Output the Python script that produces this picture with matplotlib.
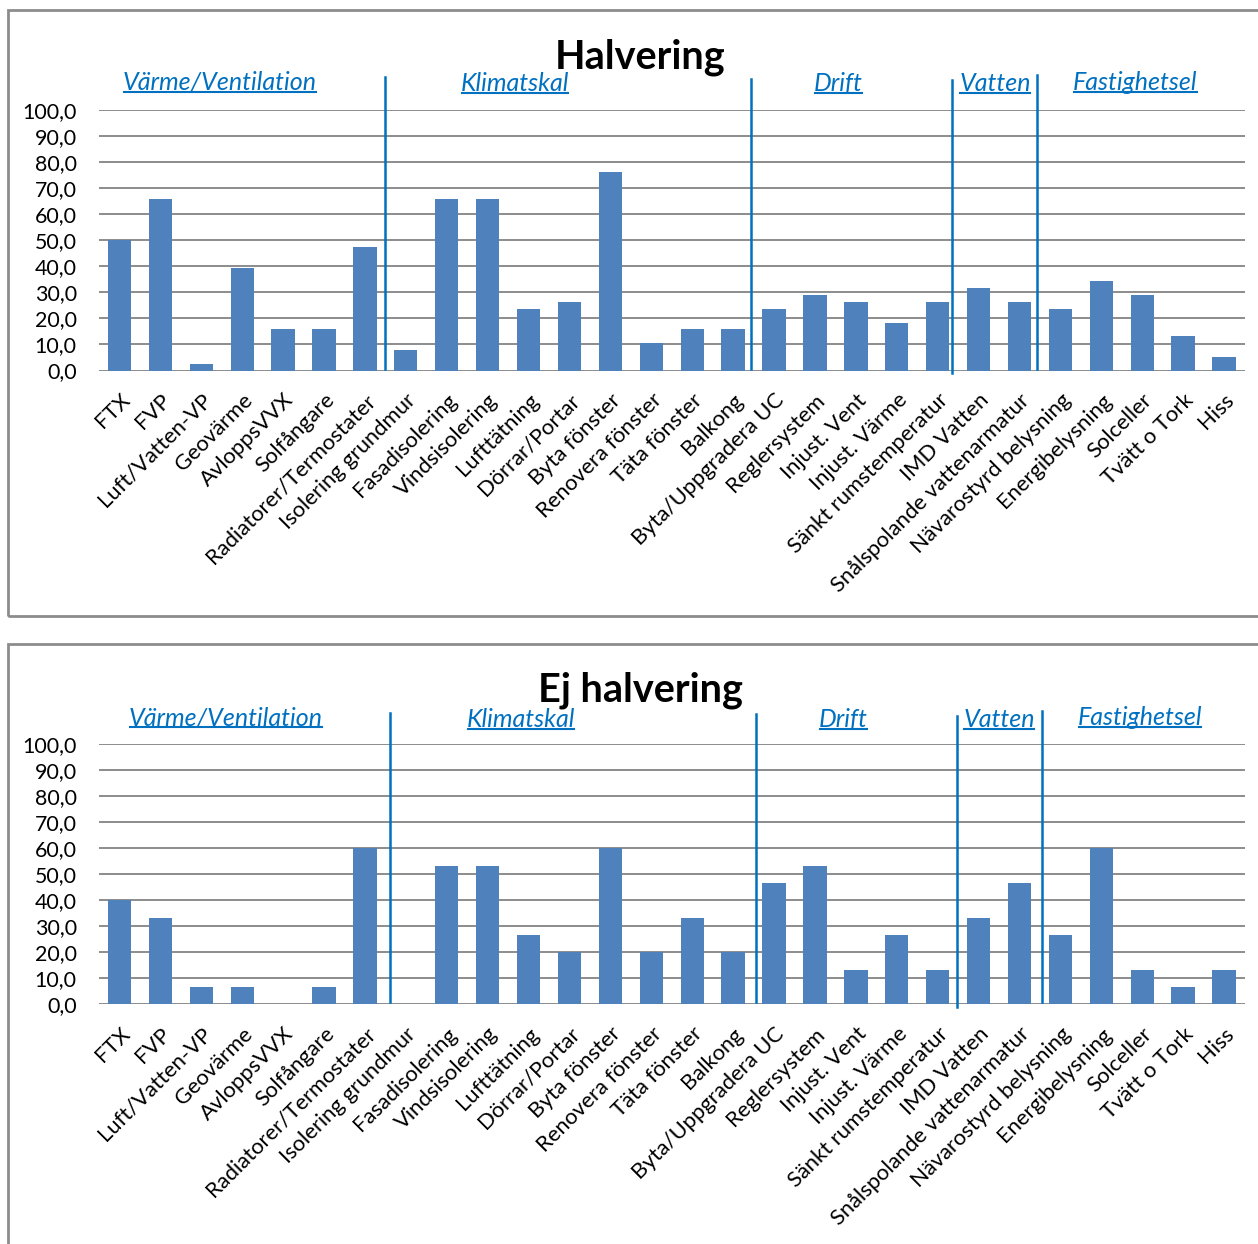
import matplotlib
matplotlib.use("Agg")
import matplotlib.pyplot as plt
from matplotlib.patches import Rectangle
from matplotlib.lines import Line2D
from matplotlib.ticker import FuncFormatter

plt.rcParams["font.family"] = ["Lato", "DejaVu Sans"]

# Categories (x axis)
categories = [
    "FTX", "FVP", "Luft/Vatten-VP", "Geovärme", "AvloppsVVX", "Solfångare",
    "Radiatorer/Termostater", "Isolering grundmur", "Fasadisolering",
    "Vindsisolering", "Lufttätning", "Dörrar/Portar", "Byta fönster",
    "Renovera fönster", "Täta fönster", "Balkong", "Byta/Uppgradera UC",
    "Reglersystem", "Injust. Vent", "Injust. Värme", "Sänkt rumstemperatur",
    "IMD Vatten", "Snålspolande vattenarmatur", "Nävarostyrd belysning",
    "Energibelysning", "Solceller", "Tvätt o Tork", "Hiss",
]

# Values (%)
halvering = [
    50.0, 65.8, 2.6, 39.5, 15.8, 15.8, 47.4, 7.9, 65.8, 65.8, 23.7, 26.3,
    76.3, 10.5, 15.8, 15.8, 23.7, 28.9, 26.3, 18.4, 26.3, 31.6, 26.3, 23.7,
    34.2, 28.9, 13.2, 5.3,
]
ej_halvering = [
    40.0, 33.3, 6.7, 6.7, 0.0, 6.7, 60.0, 0.0, 53.3, 53.3, 26.7, 20.0,
    60.0, 20.0, 33.3, 20.0, 46.7, 53.3, 13.3, 26.7, 13.3, 33.3, 46.7, 26.7,
    60.0, 13.3, 6.7, 13.3,
]

groups = ["Värme/Ventilation", "Klimatskal", "Drift", "Vatten", "Fastighetsel"]

W, H = 1258, 1244
BAR = "#4F81BD"
BLUE = "#0070C0"
GRID = "#8c8c8c"

fig = plt.figure(figsize=(W / 100, H / 100), dpi=100)


def fx(px):
    return px / W


def fy(py):
    return 1 - py / H


def panel(values, title, y_zero, y_top, title_y, frame_top, frame_bottom,
          group_x, group_y, seps):
    # frame
    fig.patches.append(Rectangle((fx(8), fy(frame_bottom)), fx(1400 - 8),
                                 fy(frame_top) - fy(frame_bottom),
                                 transform=fig.transFigure, fill=False,
                                 edgecolor=GRID, lw=2))
    left, right = 99, 1244.5
    ax = fig.add_axes([fx(left), fy(y_zero), fx(right - left),
                       fy(y_top) - fy(y_zero)])
    x = list(range(len(categories)))
    ax.bar(x, values, width=0.57, color=BAR, zorder=3)
    ax.set_xlim(-0.5, len(categories) - 0.5)
    ax.set_ylim(0, 100)
    ax.set_yticks(range(0, 101, 10))
    ax.yaxis.set_major_formatter(FuncFormatter(lambda v, p: f"{v:.1f}".replace(".", ",")))
    ax.grid(axis="y", color=GRID, lw=1.4, zorder=0)
    for s in ax.spines.values():
        s.set_visible(False)
    ax.tick_params(axis="both", length=0, colors="#000000")
    ax.tick_params(axis="y", pad=16, labelsize=15.4)
    ax.set_xticks(x)
    ax.set_xticklabels(categories, rotation=45, ha="right", va="top",
                       rotation_mode="anchor", fontsize=15.8)
    ax.tick_params(axis="x", pad=14)

    fig.text(fx(640), fy(title_y), title, ha="center", va="center",
             fontsize=28.5, fontweight="bold", color="#000000")

    texts = []
    for name, gx, gy in zip(groups, group_x, group_y):
        t = ax.text(gx, gy, name, ha="center", va="center", fontsize=18,
                    style="italic", color=BLUE, clip_on=False)
        texts.append(t)

    for sx, y0, y1 in seps:
        ax.plot([sx, sx], [y0, y1], color=BLUE, lw=1.8, clip_on=False,
                zorder=4)
    return ax, texts


ax1, t1 = panel(halvering, "Halvering", 370.5, 110, 57, 10, 616,
                [2.46, 9.67, 17.57, 21.4, 24.83],
                [110.7, 110.0, 110.0, 110.0, 110.7],
                [(6.48, 0.6, 112.7), (15.44, 0.6, 111.9),
                 (20.35, -1.0, 111.5), (22.42, 0.6, 113.4)])
ax2, t2 = panel(ej_halvering, "Ej halvering", 1004.3, 744, 690, 644, 1400,
                [2.6, 9.81, 17.69, 21.5, 24.95],
                [110.0, 109.5, 109.5, 109.5, 110.0],
                [(6.61, 0.9, 111.9), (15.55, 0.9, 111.5),
                 (20.48, -1.0, 110.8), (22.55, 0.9, 112.7)])

# underline the group labels
fig.canvas.draw()
r = fig.canvas.get_renderer()
for t in t1 + t2:
    bb = t.get_window_extent(r)
    yy = bb.y0 + 2
    fig.lines.append(Line2D([bb.x0 + 1, bb.x1 - 1], [yy, yy],
                            transform=None, color=BLUE, lw=1.5))

fig.savefig("out.png", dpi=100)
